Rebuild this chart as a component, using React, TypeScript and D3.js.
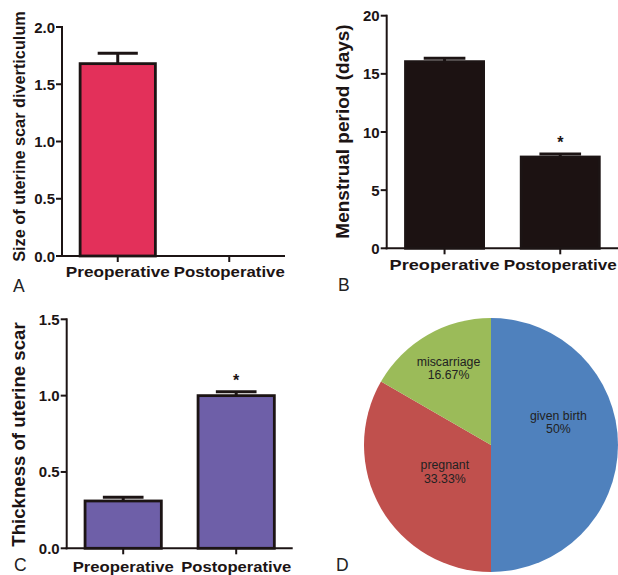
import React from "react";
import * as d3 from "d3";

// shared categories
const categories = ["Preoperative", "Postoperative"];
const significant = [false, true];

// A: size of uterine scar diverticulum
const sizeMean = [1.68, 0];
const sizeSem = [0.09, 0];
const sizeTicks = [0, 0.5, 1.0, 1.5, 2.0];

// B: menstrual period (days)
const periodMean = [16.05, 7.85];
const periodSem = [0.3, 0.25];
const periodTicks = [0, 5, 10, 15, 20];

// C: thickness of uterine scar
const thickMean = [0.31, 1.0];
const thickSem = [0.025, 0.025];
const thickTicks = [0, 0.5, 1.0, 1.5];

// D: outcome pie
const outcomeLabels = ["given birth", "pregnant", "miscarriage"];
const outcomeValues = [50, 33.33, 16.67];
const outcomeText = ["50%", "33.33%", "16.67%"];
const outcomeColors = ["#4F81BD", "#C0504D", "#9BBB59"];

const INK = "#1c1414";
const FONT = "'Liberation Sans', Arial, sans-serif";

type PanelProps = {
  axisX: number;
  step: number;
  yTop: number;
  yBottom: number;
  ticks: number[];
  fmt: (v: number) => string;
  mean: number[];
  sem: number[];
  fill: string;
  yLabel: string;
  yLabelX: number;
  yLabelY: number;
  yLabelSize: number;
  catBaseline: number;
  catLengths: number[];
  catSize: number;
};

function BarPanel(p: PanelProps) {
  const x = d3.scalePoint<string>()
    .domain(categories)
    .range([p.axisX, p.axisX + 2 * p.step])
    .padding(0.5);
  const y = d3.scaleLinear()
    .domain([0, p.ticks[p.ticks.length - 1]])
    .range([p.yBottom, p.yTop]);
  const bw = p.step * 0.675;
  const cap = p.step * 0.18;
  const xEnd = Math.min(p.axisX + 2 * p.step, 618);

  return (
    <g>
      {/* bars */}
      {categories.map((c, i) => {
        const cx = x(c)!;
        if (p.mean[i] <= 0) return null;
        const top = y(p.mean[i]);
        const errTop = y(p.mean[i] + p.sem[i]);
        return (
          <g key={c}>
            <line x1={cx} x2={cx} y1={top} y2={errTop} stroke={INK} strokeWidth={3} />
            <line x1={cx - cap} x2={cx + cap} y1={errTop} y2={errTop} stroke={INK} strokeWidth={3} />
            <rect x={cx - bw / 2} y={top} width={bw} height={y(0) - top}
              fill={p.fill} stroke={INK} strokeWidth={2.8} />
            {significant[i] && (
              <text x={cx} y={errTop - 6} textAnchor="middle" fontSize={16} fontWeight="bold"
                fontFamily={FONT} fill={INK}>*</text>
            )}
          </g>
        );
      })}

      {/* y axis */}
      <line x1={p.axisX} x2={p.axisX} y1={p.yTop - 1} y2={p.yBottom + 1} stroke={INK} strokeWidth={2} />
      {p.ticks.map((t) => (
        <g key={t}>
          <line x1={p.axisX - 6} x2={p.axisX} y1={y(t)} y2={y(t)} stroke={INK} strokeWidth={2} />
          <text x={p.axisX - 7} y={y(t) + 5.5} textAnchor="end" fontSize={15}
            fontWeight="bold" fontFamily={FONT} fill={INK}>{p.fmt(t)}</text>
        </g>
      ))}

      {/* x axis */}
      <line x1={p.axisX - 1} x2={xEnd} y1={p.yBottom} y2={p.yBottom} stroke={INK} strokeWidth={2} />
      {categories.map((c, i) => (
        <g key={c}>
          <line x1={x(c)} x2={x(c)} y1={p.yBottom} y2={p.yBottom + 6} stroke={INK} strokeWidth={2} />
          <text x={x(c)} y={p.catBaseline} textAnchor="middle" fontSize={p.catSize}
            fontWeight="bold" fontFamily={FONT} fill={INK}
            textLength={p.catLengths[i]} lengthAdjust="spacingAndGlyphs">{c}</text>
        </g>
      ))}

      {/* y label */}
      <text transform={`translate(${p.yLabelX},${p.yLabelY}) rotate(-90)`}
        textAnchor="middle" fontSize={p.yLabelSize} fontWeight="bold"
        fontFamily={FONT} fill={INK}>{p.yLabel}</text>
    </g>
  );
}

function OutcomePie() {
  const cx = 491;
  const cy = 445;
  const r = 127;
  const pie = d3.pie<number>().sort(null).startAngle(0).endAngle(2 * Math.PI);
  const arcs = pie(outcomeValues);
  const arc = d3.arc<d3.PieArcDatum<number>>().innerRadius(0).outerRadius(r);
  // label placement (radius fraction, angle shift in degrees)
  const place = [
    { rf: 0.56, shift: -18.6 },
    { rf: 0.42, shift: 0 },
    { rf: 0.69, shift: 1 },
  ];
  return (
    <g transform={`translate(${cx},${cy})`}>
      {arcs.map((a, i) => (
        <path key={i} d={arc(a) || ""} fill={outcomeColors[i]} />
      ))}
      {arcs.map((a, i) => {
        const mid = (a.startAngle + a.endAngle) / 2 + (place[i].shift * Math.PI) / 180;
        const lr = r * place[i].rf;
        const lx = lr * Math.sin(mid);
        const ly = -lr * Math.cos(mid);
        return (
          <g key={i} fontFamily={FONT} fontSize={12.3} fill="#222" textAnchor="middle">
            <text x={lx} y={ly - 6.8 + 4.3}>{outcomeLabels[i]}</text>
            <text x={lx} y={ly + 6.8 + 4.3}>{outcomeText[i]}</text>
          </g>
        );
      })}
    </g>
  );
}

export default function App() {
  const f1 = d3.format(".1f");
  const f0 = d3.format("d");
  return (
    <svg width={618} height={575} style={{ position: "absolute", left: 0, top: 0, background: "#fff" }}>
      <rect width={618} height={575} fill="#fff" />

      <BarPanel axisX={62} step={111.5} yTop={27} yBottom={256} ticks={sizeTicks} fmt={f1}
        mean={sizeMean} sem={sizeSem} fill="#E3305A"
        yLabel="Size of uterine scar diverticulum" yLabelX={25} yLabelY={136.5} yLabelSize={16.3}
        catBaseline={277} catLengths={[104, 111]} catSize={15} />

      <BarPanel axisX={386.7} step={115.7} yTop={15.7} yBottom={248.3} ticks={periodTicks} fmt={f0}
        mean={periodMean} sem={periodSem} fill="#1c1212"
        yLabel="Menstrual period (days)" yLabelX={348.5} yLabelY={131.5} yLabelSize={19}
        catBaseline={270} catLengths={[110, 113]} catSize={15.5} />

      <BarPanel axisX={66.7} step={113} yTop={319.3} yBottom={548.3} ticks={thickTicks} fmt={f1}
        mean={thickMean} sem={thickSem} fill="#6E5FA8"
        yLabel="Thickness of uterine scar" yLabelX={25} yLabelY={434.5} yLabelSize={18.6}
        catBaseline={572} catLengths={[101, 110]} catSize={15} />

      <OutcomePie />

      <g fontFamily={FONT} fontSize={17.5} fill="#222">
        <text x={13} y={292}>A</text>
        <text x={338} y={291}>B</text>
        <text x={14} y={571}>C</text>
        <text x={336} y={571}>D</text>
      </g>
    </svg>
  );
}
